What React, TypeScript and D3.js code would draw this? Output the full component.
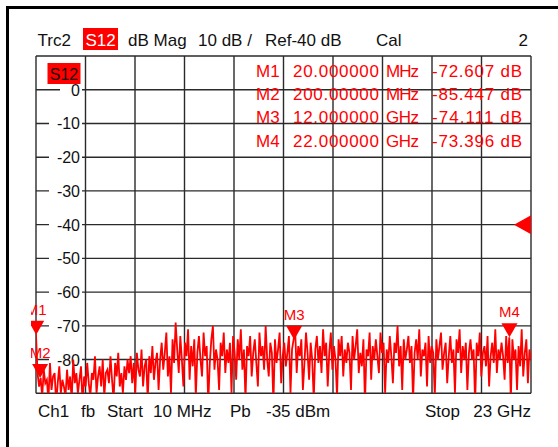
import React from "react";
import * as d3 from "d3";

// Sweep settings
const START_HZ = 10e6;
const STOP_HZ = 23e9;
const REF_DB = -40;
const DB_PER_DIV = 10;

// Y-axis tick labels (dB)
const yTickValues = [0, -10, -20, -30, -40, -50, -60, -70, -80];

// Marker table
const markerNames = ["M1", "M2", "M3", "M4"];
const markerFreqHz = [20e6, 200e6, 12e9, 22e9];
const markerFreqText = ["20.000000", "200.00000", "12.000000", "22.000000"];
const markerUnitText = ["MHz", "MHz", "GHz", "GHz"];
const markerDb = [-72.607, -85.447, -74.111, -73.396];

// Measured S12 trace (dB), evenly spaced over the sweep
const traceDb = [
  -72.6, -84, -88, -85.4, -91, -83, -87, -86, -92, -81, -89, -85, -84, -93, -87, -82, -90, -86, -88, -91,
  -83, -89, -85, -92, -80, -87, -84, -90, -86, -82, -93, -85, -88, -81, -87, -91, -84, -86, -79, -90,
  -85, -82, -88, -80, -91, -84, -83, -87, -79, -86, -92, -81, -85, -78, -88, -84, -90, -82, -86, -80,
  -84, -79, -87, -81, -90, -78, -83, -85, -77, -88, -82, -80, -92, -79, -84, -76, -86, -81, -78, -89,
  -80, -75, -83, -78, -72, -85, -79, -90, -74, -81, -69, -77, -84, -73, -80, -88, -75, -79, -71, -86,
  -76, -82, -74, -91, -78, -73, -80, -85, -72, -79, -76, -93, -81, -74, -70, -83, -77, -80, -89, -75,
  -79, -72, -84, -77, -81, -75, -90, -73, -78, -86, -74, -80, -71, -83, -77, -92, -76, -79, -73, -85,
  -78, -74, -81, -88, -72, -79, -76, -83, -70, -80, -85, -75, -78, -93, -74, -81, -77, -72, -87, -79,
  -75, -82, -78, -73, -90, -77, -74.1, -71, -84, -76, -79, -74, -89, -81, -72, -78, -86, -75, -80, -92,
  -77, -73, -81, -76, -84, -71, -79, -75, -88, -78, -72, -83, -76, -80, -91, -74, -79, -73, -85, -77,
  -81, -75, -78, -89, -73, -80, -76, -71, -84, -78, -82, -74, -93, -77, -79, -72, -86, -76, -80, -74,
  -79, -84, -72, -78, -75, -90, -77, -81, -73, -79, -87, -75, -78, -70, -82, -76, -89, -74, -80, -77,
  -73, -81, -76, -92, -78, -74, -80, -71, -85, -77, -79, -75, -88, -73, -81, -76, -78, -91, -74, -80,
  -76, -72, -83, -78, -75, -87, -79, -73, -81, -77, -90, -74, -78, -71, -84, -76, -80, -75, -89, -78,
  -74, -80, -77, -93, -75, -79, -72, -85, -78, -76, -82, -73, -88, -79, -75, -81, -71, -84, -77, -80,
  -75, -79, -86, -73, -81, -73.4, -92, -74, -80, -77, -89, -76, -82, -71, -85, -78, -74, -87, -77, -80,
];

const W = 558;
const H = 447;
const PL = 36;
const PR = 531;
const PT = 56;
const PB = 393.3;
const RED = "#ff0000";
const GRID = "#2a2a2a";
const FONT = "'Liberation Sans', Arial, sans-serif";
const READOUT_Y = [77, 100, 123, 147];

export default function App() {
  const x = d3.scaleLinear().domain([START_HZ, STOP_HZ]).range([PL, PR]);
  const top = REF_DB + 5 * DB_PER_DIV;
  const bottom = REF_DB - 5 * DB_PER_DIV;
  const y = d3.scaleLinear().domain([top, bottom]).range([PT, PB]);

  const n = traceDb.length;
  const stepHz = (STOP_HZ - START_HZ) / (n - 1);
  const line = d3
    .line<number>()
    .x((_, i) => x(START_HZ + i * stepHz))
    .y((d) => y(d));

  const vDivs = d3.range(11).map((i) => PL + (i * (PR - PL)) / 10);
  const hDivs = d3.range(top, bottom - 1, -DB_PER_DIV);

  const refY = y(REF_DB);

  return (
    <svg
      width={W}
      height={H}
      style={{ position: "fixed", left: 0, top: 0, background: "#fff" }}
      fontFamily={FONT}
    >
      <defs>
        <clipPath id="plotClip">
          <rect x={PL} y={PT} width={PR - PL} height={PB - PT} />
        </clipPath>
        <clipPath id="markClip">
          <rect x={31} y={PT} width={PR - 31} height={PB - PT} />
        </clipPath>
      </defs>
      <rect x={0} y={0} width={W} height={H} fill="#fff" />

      {/* window frame */}
      <line x1={6} y1={7.5} x2={W} y2={7.5} stroke="#000" strokeWidth={3} />
      <line x1={7.5} y1={6} x2={7.5} y2={H} stroke="#000" strokeWidth={3} />

      {/* header line */}
      <g fontSize={17} fill="#111">
        <text x={37.5} y={46}>Trc2</text>
        <rect x={83} y={28} width={35} height={22} fill={RED} />
        <text x={100.5} y={46} fill="#fff" textAnchor="middle">S12</text>
        <text x={128} y={46}>dB Mag</text>
        <text x={198} y={46}>10 dB /</text>
        <text x={265} y={46}>Ref-40 dB</text>
        <text x={376} y={46}>Cal</text>
        <text x={528} y={46} textAnchor="end">2</text>
      </g>

      {/* graticule */}
      <g stroke={GRID} strokeWidth={1.4}>
        {vDivs.map((vx, i) => (
          <line key={"v" + i} x1={vx} x2={vx} y1={PT} y2={PB} />
        ))}
        {hDivs.map((d, i) => (
          <line key={"h" + i} x1={PL} x2={PR} y1={y(d)} y2={y(d)} />
        ))}
      </g>

      {/* y labels */}
      <g fontSize={16} fill="#111">
        {yTickValues.map((v) => {
          const s = String(v);
          const w = s.length === 1 ? 22 : 33;
          return (
            <g key={s}>
              <rect x={82 - w} y={y(v) - 7} width={w} height={14} fill="#fff" />
              <text x={80} y={y(v) + 6} textAnchor="end">{s}</text>
            </g>
          );
        })}
      </g>

      {/* trace label */}
      <rect x={47.5} y={63} width={33} height={21} fill={RED} />
      <text x={64} y={80} fontSize={16} fill="#200" textAnchor="middle">S12</text>

      {/* trace */}
      <g clipPath="url(#plotClip)">
        <path d={line(traceDb) ?? ""} fill="none" stroke={RED} strokeWidth={1.8} strokeLinejoin="miter" />
      </g>

      {/* markers */}
      <g clipPath="url(#markClip)" fill={RED}>
        {markerNames.map((m, i) => {
          const mx = x(markerFreqHz[i]);
          const my = y(markerDb[i]);
          return (
            <g key={m}>
              <path d={`M${mx},${my} L${mx - 8},${my - 14} L${mx + 8},${my - 14} Z`} />
              <text x={mx} y={my - 20} fontSize={15} textAnchor="middle">{m}</text>
            </g>
          );
        })}
      </g>

      {/* reference level arrow */}
      <path d={`M${PR - 17},${refY} L${PR},${refY - 9.5} L${PR},${refY + 9.5} Z`} fill={RED} />

      {/* marker readout */}
      <g fontSize={17} fill={RED}>
        {markerNames.map((m, i) => {
          const by = READOUT_Y[i];
          return (
            <g key={m}>
              <text x={256} y={by}>{m}</text>
              <text x={293} y={by} textLength={86} lengthAdjust="spacing">{markerFreqText[i]}</text>
              <text x={386} y={by} textLength={33} lengthAdjust="spacing">{markerUnitText[i]}</text>
              <text x={432} y={by} textLength={90} lengthAdjust="spacing">{markerDb[i].toFixed(3) + " dB"}</text>
            </g>
          );
        })}
      </g>

      {/* footer */}
      <g fontSize={17} fill="#111">
        <text x={38} y={417}>Ch1</text>
        <text x={81} y={417}>fb</text>
        <text x={107} y={417}>Start</text>
        <text x={153} y={417}>10 MHz</text>
        <text x={230} y={417}>Pb</text>
        <text x={266} y={417}>-35 dBm</text>
        <text x={425} y={417}>Stop</text>
        <text x={531} y={417} textAnchor="end">23 GHz</text>
      </g>
    </svg>
  );
}
